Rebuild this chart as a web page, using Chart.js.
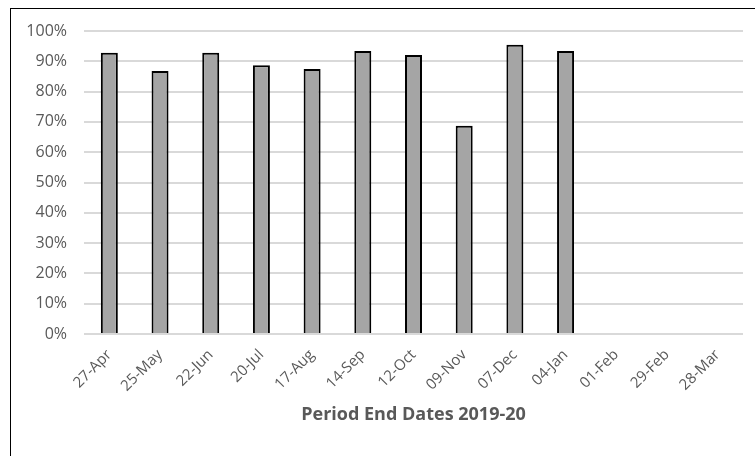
<!DOCTYPE html>
<html>
<head>
<meta charset="utf-8">
<script src="https://cdn.jsdelivr.net/npm/chart.js@4.4.1/dist/chart.umd.min.js"></script>
<style>
  html, body { margin: 0; padding: 0; background: #ffffff; }
  #wrap { position: relative; width: 755px; height: 456px; }
  #frame { position: absolute; left: 10px; top: 8px; right: -2px; bottom: -2px;
           border-top: 1px solid #000; border-left: 1px solid #000; pointer-events: none; }
  canvas { position: absolute; left: 0; top: 0; }
</style>
</head>
<body>
<div id="wrap">
  <canvas id="chart" width="755" height="456"></canvas>
  <div id="frame"></div>
</div>
<script>
// Period end dates for 2019-20
const periods = ['27-Apr', '25-May', '22-Jun', '20-Jul', '17-Aug', '14-Sep', '12-Oct',
                 '09-Nov', '07-Dec', '04-Jan', '01-Feb', '29-Feb', '28-Mar'];
// Percentage per period (later periods not yet reported)
const percentValues = [92.8, 86.8, 92.8, 88.7, 87.5, 93.4, 92.1, 68.7, 95.5, 93.4, null, null, null];
// Value axis ticks
const yTicks = [0, 10, 20, 30, 40, 50, 60, 70, 80, 90, 100];

const textColor = '#595959';
const fontFamily = "'Open Sans', 'Liberation Sans', sans-serif";

new Chart(document.getElementById('chart'), {
  type: 'bar',
  data: {
    labels: periods,
    datasets: [{
      data: percentValues,
      backgroundColor: '#a5a5a5',
      borderColor: '#000000',
      borderWidth: 2,
      borderSkipped: 'bottom',
      categoryPercentage: 1,
      barPercentage: 0.335
    }]
  },
  options: {
    responsive: false,
    animation: false,
    devicePixelRatio: 1,
    layout: { padding: { left: 10, top: 31, right: 12, bottom: 0 } },
    plugins: { legend: { display: false }, tooltip: { enabled: false } },
    scales: {
      x: {
        grid: { display: false, drawTicks: false },
        border: { display: false },
        ticks: {
          color: textColor,
          font: { family: fontFamily, size: 15 },
          minRotation: 45, maxRotation: 45,
          padding: 12,
          autoSkip: false
        },
        title: {
          display: true,
          text: 'Period End Dates 2019-20',
          color: textColor,
          font: { family: fontFamily, size: 18, weight: 'bold' },
          padding: { top: 12, bottom: 30 }
        },
        afterFit(scale) { scale.height = 456 - 334; }
      },
      y: {
        min: 0, max: 100,
        afterBuildTicks(scale) { scale.ticks = yTicks.map(v => ({ value: v })); },
        grid: { color: '#d9d9d9', lineWidth: 2, drawTicks: false },
        border: { display: false },
        ticks: {
          color: textColor,
          font: { family: fontFamily, size: 16 },
          padding: 17,
          callback: v => v + '%'
        },
        afterFit(scale) { scale.width = 74; }
      }
    }
  }
});
</script>
</body>
</html>
